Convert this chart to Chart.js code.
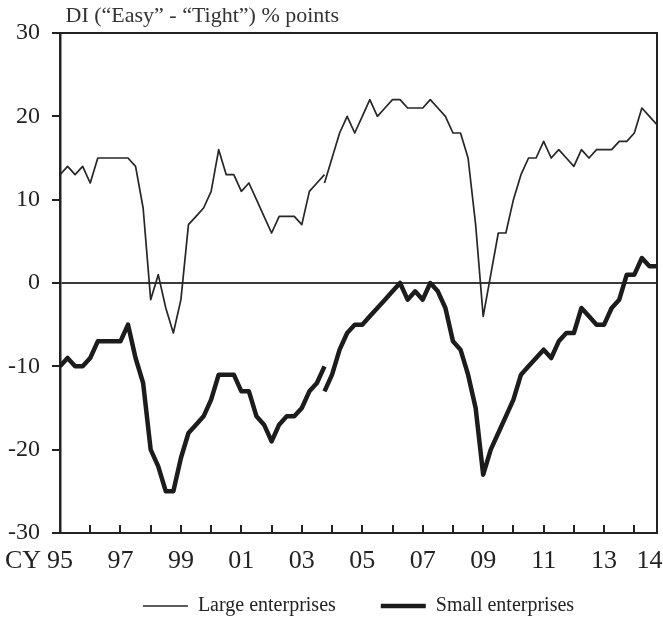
<!DOCTYPE html>
<html>
<head>
<meta charset="utf-8">
<script src="https://cdn.jsdelivr.net/npm/chart.js@4.4.1/dist/chart.umd.min.js"></script>
<style>
  html, body { margin: 0; padding: 0; background: #fff; }
  #wrap { width: 663px; height: 621px; }
</style>
</head>
<body>
<div id="wrap"><canvas id="di"></canvas></div>
<script>
// quarterly DI from 1995 Q1; the survey was revised in 2003 Q4, so that quarter has two values
const firstYear = 1995;
const breakQuarter = 35;

const largeOld = [13, 14, 13, 14, 12, 15, 15, 15, 15, 15, 14, 9, -2, 1, -3, -6, -2, 7, 8, 9,
  11, 16, 13, 13, 11, 12, 10, 8, 6, 8, 8, 8, 7, 11, 12, 13];
const largeNew = [12, 15, 18, 20, 18, 20, 22, 20, 21, 22, 22, 21, 21, 21, 22, 21, 20, 18, 18, 15,
  7, -4, 1, 6, 6, 10, 13, 15, 15, 17, 15, 16, 15, 14, 16, 15, 16, 16, 16, 17, 17, 18, 21, 20, 19];
const smallOld = [-10, -9, -10, -10, -9, -7, -7, -7, -7, -5, -9, -12, -20, -22, -25, -25, -21, -18, -17, -16,
  -14, -11, -11, -11, -13, -13, -16, -17, -19, -17, -16, -16, -15, -13, -12, -10];
const smallNew = [-13, -11, -8, -6, -5, -5, -4, -3, -2, -1, 0, -2, -1, -2, 0, -1, -3, -7, -8, -11,
  -15, -23, -20, -18, -16, -14, -11, -10, -9, -8, -9, -7, -6, -6, -3, -4, -5, -5, -3, -2, 1, 1, 3, 2, 2];

const xTickValues = [1995, 1997, 1999, 2001, 2003, 2005, 2007, 2009, 2011, 2013, 2014.5];
const xTickLabels = ['95', '97', '99', '01', '03', '05', '07', '09', '11', '13', '14'];
const yTicks = [-30, -20, -10, 0, 10, 20, 30];

const toPoints = (values, start) => values.map((v, i) => ({ x: firstYear + (start + i) / 4, y: v }));

const serif = 'Liberation Serif';
const ink = '#222';
const xLabelPad = 13;
const xLabelSize = 26;
const legendGap = '       ';

// inward yearly ticks on the bottom axis + the "CY" prefix
const axisExtras = {
  id: 'axisExtras',
  afterDraw(chart) {
    const { ctx, chartArea, scales } = chart;
    const x = scales.x;
    ctx.save();
    ctx.strokeStyle = ink;
    ctx.lineWidth = 2;
    for (let yr = firstYear + 1; yr <= Math.floor(x.max); yr++) {
      const px = Math.round(x.getPixelForValue(yr));
      ctx.beginPath();
      ctx.moveTo(px, chartArea.bottom);
      ctx.lineTo(px, chartArea.bottom - 8);
      ctx.stroke();
    }
    ctx.font = xLabelSize + 'px "' + serif + '"';
    ctx.fillStyle = ink;
    ctx.textAlign = 'right';
    ctx.textBaseline = 'middle';
    ctx.fillText('CY', x.getPixelForValue(firstYear) - 19, chartArea.bottom + xLabelPad + xLabelSize * 0.6);
    ctx.restore();
  }
};

new Chart(document.getElementById('di'), {
  type: 'line',
  data: {
    datasets: [
      { label: 'Large enterprises', data: toPoints(largeOld, 0), borderColor: '#262626', borderWidth: 1.7 },
      { label: 'Small enterprises', data: toPoints(smallOld, 0), borderColor: '#1c1c1c', borderWidth: 4.5 },
      { label: 'Large enterprises', data: toPoints(largeNew, breakQuarter), borderColor: '#262626', borderWidth: 1.7 },
      { label: 'Small enterprises', data: toPoints(smallNew, breakQuarter), borderColor: '#1c1c1c', borderWidth: 4.5 }
    ]
  },
  options: {
    responsive: true,
    maintainAspectRatio: false,
    animation: false,
    devicePixelRatio: 1,
    layout: { padding: { top: 0, left: 0, right: 0, bottom: -5 } },
    elements: {
      point: { radius: 0 },
      line: { tension: 0, fill: false, borderJoinStyle: 'round' }
    },
    scales: {
      x: {
        type: 'linear',
        min: 1995,
        max: 2014.75,
        afterBuildTicks: s => { s.ticks = xTickValues.map(v => ({ value: v })); },
        afterFit: s => { s.height = 53; s.paddingLeft = 0; s.paddingRight = 0; },
        ticks: {
          padding: xLabelPad,
          autoSkip: false,
          maxRotation: 0,
          color: ink,
          font: { family: serif, size: xLabelSize },
          callback: (v, i) => xTickLabels[i]
        },
        grid: { drawOnChartArea: false, drawTicks: false },
        border: { color: ink, width: 2 }
      },
      y: {
        min: -30,
        max: 30,
        afterBuildTicks: s => { s.ticks = yTicks.map(v => ({ value: v })); },
        afterFit: s => { s.width = 60; s.paddingTop = 0; s.paddingBottom = 0; },
        ticks: { padding: 12, color: ink, font: { family: serif, size: 24 } },
        grid: {
          color: c => (c.tick && c.tick.value === 0 ? '#3a3a3a' : 'rgba(0,0,0,0)'),
          tickColor: ink,
          tickLength: 8,
          lineWidth: 2
        },
        border: { color: ink, width: 2.5 }
      },
      x2: {
        axis: 'x',
        type: 'linear',
        position: 'top',
        ticks: { display: false },
        grid: { drawOnChartArea: false, drawTicks: false },
        border: { color: ink, width: 2 },
        afterFit: s => { s.height = 0; s.paddingLeft = 0; s.paddingRight = 0; }
      },
      y2: {
        axis: 'y',
        type: 'linear',
        position: 'right',
        ticks: { display: false },
        grid: { drawOnChartArea: false, drawTicks: false },
        border: { color: ink, width: 2 },
        afterFit: s => { s.width = 6; s.paddingTop = 0; s.paddingBottom = 0; }
      }
    },
    plugins: {
      title: {
        display: true,
        text: ' DI (“Easy” - “Tight”) % points',
        align: 'start',
        fullSize: false,
        color: '#333',
        font: { family: serif, size: 22, weight: 'normal', lineHeight: 1.2 },
        padding: { top: 3, bottom: 3.6 }
      },
      legend: {
        position: 'bottom',
        fullSize: false,
        labels: {
          usePointStyle: true,
          pointStyle: 'line',
          pointStyleWidth: 45,
          padding: 10,
          color: ink,
          font: { family: serif, size: 20 },
          generateLabels: chart => Chart.defaults.plugins.legend.labels.generateLabels(chart)
            .filter(item => item.datasetIndex < 2)
            .map((item, i) => (i === 0 ? { ...item, text: item.text + legendGap } : item))
        }
      },
      tooltip: { enabled: false }
    }
  },
  plugins: [axisExtras]
});
</script>
</body>
</html>
